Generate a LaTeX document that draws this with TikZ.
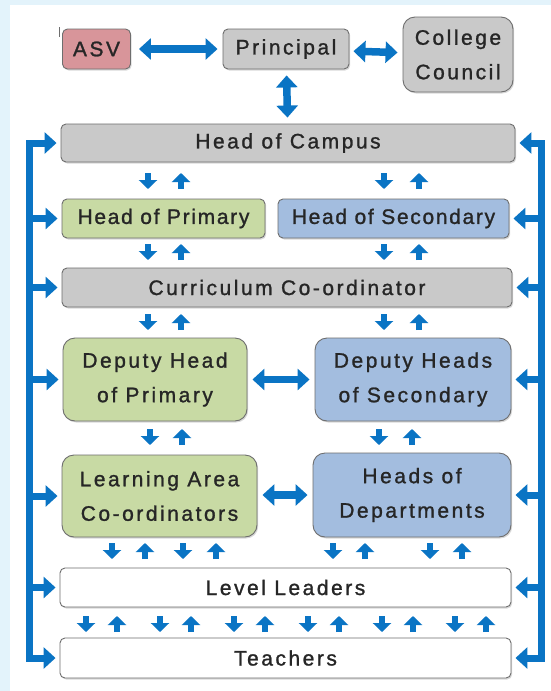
\documentclass[tikz,border=0pt]{standalone}
\usepackage{fontspec}
\setmainfont{Liberation Sans}
\newfontfamily\boxfont[LetterSpace=12, FakeBold=1.2]{Liberation Sans}
\usetikzlibrary{arrows.meta,shadows,calc}
\definecolor{bgblue}{HTML}{E3F3FB}
\definecolor{arrblue}{HTML}{0A74C4}
\definecolor{boxgray}{HTML}{C9C9C9}
\definecolor{boxgreen}{HTML}{C8DAA4}
\definecolor{boxblue}{HTML}{A3BDDF}
\definecolor{boxred}{HTML}{D8959A}
\definecolor{edgegray}{HTML}{6E6E6E}
\definecolor{txt}{HTML}{262626}
\tikzset{
  box/.style={draw=edgegray, line width=0.9pt, rounded corners=5pt, text=txt,
    font=\boxfont\fontsize{21}{34.5}\selectfont, align=center, inner sep=0pt,
    drop shadow={opacity=0.3, shadow xshift=1.2pt, shadow yshift=-1.5pt}},
  bigbox/.style={box, rounded corners=12pt},
  bigtip/.tip={Triangle[width=21pt,length=12pt]},
  bigarrow/.style={draw=arrblue, line width=7.5pt, bigtip-bigtip, shorten <=5pt, shorten >=5pt},
  bar/.style={draw=arrblue, line width=7pt, line join=miter},
  smalltip/.tip={Triangle[width=18pt,length=9pt]},
  small/.style={draw=arrblue, line width=6.5pt, -smalltip}
}
\begin{document}
\begin{tikzpicture}[x=1pt,y=-1pt]
\fill[bgblue] (0,0) rectangle (551,691);
\fill[white] (10,5) rectangle (551,691);
\useasboundingbox (0,0) rectangle (551,691);
\draw[edgegray, line width=0.8pt] (59,27) -- (59,37);

% top row
\node[box, fill=boxred, minimum width=68pt, minimum height=40pt] (asv) at (96.5,49) {ASV};
\node[box, fill=boxgray, minimum width=126pt, minimum height=40pt] (prin) at (286,49) {Principal};
\node[bigbox, fill=boxgray, minimum width=110pt, minimum height=75pt] (cc) at (458,54.5) {College\\Council};

% main levels
\node[box, fill=boxgray, minimum width=454pt, minimum height=38pt] (hoc) at (288,143) {Head of Campus};
\node[box, fill=boxgreen, minimum width=203pt, minimum height=39pt] (hop) at (163.5,218.5) {{\addfontfeature{LetterSpace=8}Head of Primary}};
\node[box, fill=boxblue, minimum width=231pt, minimum height=39pt] (hos) at (393.5,218.5) {{\addfontfeature{LetterSpace=8}Head of Secondary}};
\node[box, fill=boxgray, minimum width=450pt, minimum height=39pt] (cur) at (287,287.5) {Curriculum Co-ordinator};
\node[bigbox, fill=boxgreen, minimum width=184pt, minimum height=83pt] (dhp) at (155,379.5) {Deputy Head\\of Primary};
\node[bigbox, fill=boxblue, minimum width=196pt, minimum height=83pt] (dhs) at (413,379.5) {Deputy Heads\\of Secondary};
\node[bigbox, fill=boxgreen, minimum width=195pt, minimum height=82pt] (lac) at (159.5,496) {Learning Area\\Co-ordinators};
\node[bigbox, fill=boxblue, minimum width=198pt, minimum height=84pt] (hod) at (412,495) {Heads of\\Departments};
\node[box, fill=white, minimum width=451pt, minimum height=39pt] (ll) at (285.5,587.5) {Level Leaders};
\node[box, fill=white, minimum width=451pt, minimum height=40pt] (tea) at (285.5,658) {Teachers};

% horizontal / vertical big arrows
\draw[bigarrow, shorten <=8pt] (asv) -- (prin);
\draw[bigarrow, shorten <=4pt] (prin) -- (cc);
\draw[bigarrow, shorten <=6pt, shorten >=6pt] (prin) -- (hoc);
\draw[bigarrow] (dhp) -- (dhs);
\draw[bigarrow] (lac.east |- hod) -- (hod);

% side bars
\coordinate (L) at (29,0);
\coordinate (R) at (541,0);
\draw[bar, bigtip-bigtip, shorten <=4pt, shorten >=4pt]
  (hoc.west) -- (hoc.west -| L) -- (tea.west -| L) -- (tea.west);
\foreach \n in {hop,cur,dhp,lac,ll}
  \draw[bar, -bigtip, shorten >=4pt] (\n.west -| L) -- (\n.west);
\draw[bar, bigtip-bigtip, shorten <=4pt, shorten >=4pt]
  (hoc.east) -- (hoc.east -| R) -- (tea.east -| R) -- (tea.east);
\foreach \n in {hos,cur,dhs,hod,ll}
  \draw[bar, -bigtip, shorten >=4pt] (\n.east -| R) -- (\n.east);

% small down/up arrow pairs
\foreach \xd/\xu/\y in {148/181/181, 384/419/181, 148/181/252, 384/419/252,
   148/181/322, 384/419/322, 150/182/437, 379/412/437,
   112/145/551, 183/216/551, 333/365/551, 430/462/551,
   86/117/624, 160/191/624, 234/265/624, 308/339/624, 382/413/624, 455/486/624}{
  \draw[small] (\xd,\y-8) -- (\xd,\y+8);
  \draw[small] (\xu,\y+8) -- (\xu,\y-8);
}
\end{tikzpicture}
\end{document}
